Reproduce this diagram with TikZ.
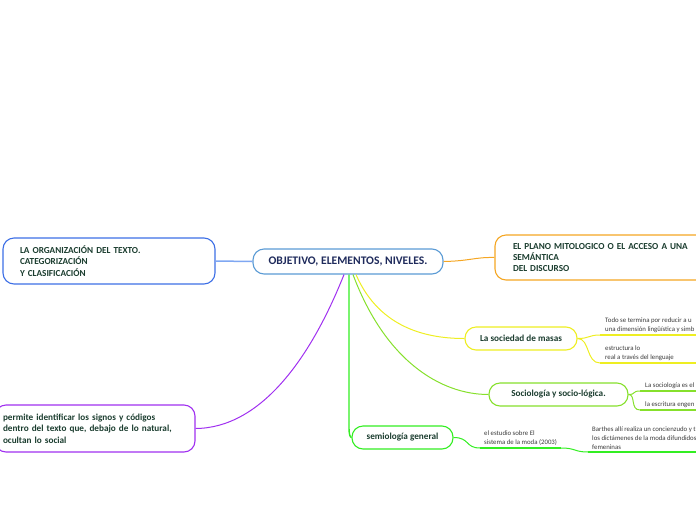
\documentclass[tikz,border=0pt]{standalone}
\usepackage{fontspec}
\setmainfont{Carlito}
\definecolor{txtgreen}{HTML}{1B3D2F}
\definecolor{navy}{HTML}{1F2B5C}
\definecolor{leafgrey}{HTML}{3A3A3A}
\definecolor{mainblue}{HTML}{5B9BD5}
\definecolor{orgblue}{HTML}{3D6FE6}
\definecolor{linkblue}{HTML}{7FA7F2}
\definecolor{mitorange}{HTML}{F5A623}
\definecolor{masyellow}{HTML}{EEEE22}
\definecolor{soclime}{HTML}{86E02C}
\definecolor{semgreen}{HTML}{33EE22}
\definecolor{socpurple}{HTML}{A030F0}

\begin{document}
\begin{tikzpicture}[x=1pt,y=-1pt,
  topic/.style={draw, rounded corners=11pt, line width=1.1pt, fill=white, text=txtgreen,
    font=\bfseries\fontsize{9.2}{11.3}\selectfont, align=left},
  leaf/.style={anchor=south west, inner xsep=5pt, inner ysep=2pt, text=leafgrey,
    font=\fontsize{6.8}{9.2}\selectfont, align=left},
  link/.style={line width=1pt},
  under/.style={line width=1.8pt}]
\useasboundingbox (0,0) rectangle (696,520);
\clip (0,0) rectangle (696,520);

\node[topic, draw=mainblue, text=navy, font=\bfseries\fontsize{11.6}{13}\selectfont, align=center,
  minimum width=190pt, minimum height=25pt, inner xsep=0pt] (central) at (348,261.5) {OBJETIVO, ELEMENTOS, NIVELES.};

\node[topic, draw=orgblue, inner xsep=17pt, text width=178pt, minimum height=46pt] (organizacion) at (109,261)
  {LA ORGANIZACIÓN DEL TEXTO.\\CATEGORIZACIÓN\\Y CLASIFICACIÓN};
\node[topic, draw=mitorange, inner xsep=18pt, text width=180pt, minimum height=45pt] (mitologico) at (603,257.5)
  {EL PLANO MITOLOGICO O EL ACCESO A UNA\\SEMÁNTICA\\DEL DISCURSO};
\node[topic, draw=masyellow, align=center, minimum width=112pt, minimum height=23pt] (masas) at (521,338.5)
  {La sociedad de masas};
\node[topic, draw=soclime, align=center, minimum width=139pt, minimum height=23pt] (sociologia) at (558.5,394.5)
  {Sociología y socio-lógica.};
\node[topic, draw=semgreen, align=center, minimum width=101pt, minimum height=23pt] (semiologia) at (402.5,437.5)
  {semiología general};
\node[topic, draw=socpurple, inner xsep=8pt, text width=184pt, minimum height=47pt] (identificar) at (95,428.5)
  {permite identificar los signos y códigos\\dentro del texto que, debajo de lo natural,\\ocultan lo social};

\node[leaf] (reducir) at (600,335) {Todo se termina por reducir a u\\una dimensión lingüística y simb};
\node[leaf] (estructura) at (600,363) {estructura lo\\real a través del lenguaje};
\node[leaf] (escienc) at (640,391) {La sociología es el};
\node[leaf] (escritura) at (640,410) {la escritura engen};
\node[leaf, inner xsep=4pt] (moda) at (480,448) {el estudio sobre El\\sistema de la moda (2003)};
\node[leaf, inner xsep=4pt] (barthes) at (588,452) {Barthes allí realiza un concienzudo y t\\los dictámenes de la moda difundidos\\femeninas};

\draw[link, linkblue, line width=1.5pt] (central.west) -- (organizacion.east);
\draw[link, mitorange] (central.east) .. controls (470,261) and (475,257) .. (mitologico.west);
\draw[link, masyellow] ([xshift=8pt]central.south) .. controls (380,330) and (430,338.5) .. (masas.west);
\draw[link, soclime] ([xshift=5pt]central.south) .. controls (385,360) and (440,394.5) .. (sociologia.west);
\draw[link, semgreen, line width=1.4pt] ([xshift=1pt]central.south) -- (349,428) .. controls (349,434) and (350,437.5) .. (semiologia.west);
\draw[link, socpurple] ([xshift=-4pt]central.south) .. controls (310,360) and (260,428) .. (identificar.east);

\draw[link, masyellow] (masas.east) .. controls (590,338.5) and (588,335) .. (reducir.south west);
\draw[link, masyellow] (masas.east) .. controls (590,338.5) and (586,363) .. (estructura.south west);
\draw[link, soclime] (sociologia.east) .. controls (636,394.5) and (632,391) .. (escienc.south west);
\draw[link, soclime] (sociologia.east) .. controls (636,394.5) and (630,410) .. (escritura.south west);
\draw[link, semgreen] (semiologia.east) .. controls (470,437.5) and (465,448) .. (moda.south west);
\draw[link, semgreen] (moda.south east) .. controls (576,448) and (574,452) .. (barthes.south west);

\draw[under, masyellow] (reducir.south west) -- +(120,0);
\draw[under, masyellow] (estructura.south west) -- +(120,0);
\draw[under, soclime] (escienc.south west) -- +(80,0);
\draw[under, soclime] (escritura.south west) -- +(80,0);
\draw[under, semgreen] (moda.south west) -- (moda.south east);
\draw[under, semgreen] (barthes.south west) -- +(120,0);
\end{tikzpicture}
\end{document}
